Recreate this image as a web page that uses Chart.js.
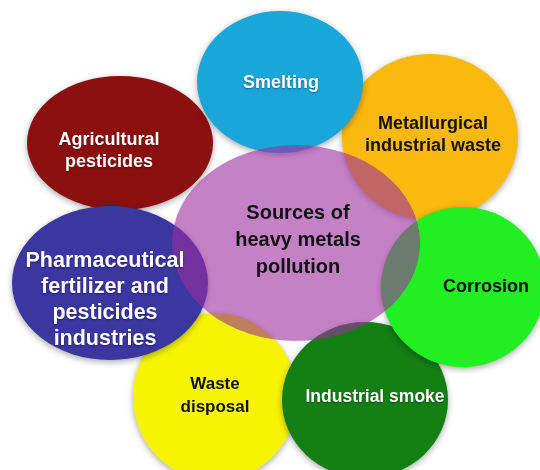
<!DOCTYPE html>
<html>
<head>
<meta charset="utf-8">
<script src="https://cdn.jsdelivr.net/npm/chart.js@4"></script>
<style>
  html, body { margin: 0; padding: 0; background: #fff; }
</style>
</head>
<body>
<canvas id="my-chart" width="540" height="470"></canvas>
<script>
// diagram content, drawn in back-to-front order (centre bubble last)
const names = [
    ["Metallurgical", "industrial waste"],
    ["Agricultural", "pesticides"],
    ["Smelting"],
    ["Waste", "disposal"],
    ["Pharmaceutical", "fertilizer and", "pesticides", "industries"],
    ["Industrial smoke"],
    ["Corrosion"],
    ["Sources of", "heavy metals", "pollution"]
];
// bubble centres and half-widths / half-heights in diagram units
const centerX = [430, 120, 280, 215, 110, 365, 463, 296];
const centerY = [137, 143, 82, 397, 283, 400, 287, 243];
const radiusX = [88, 93, 83, 82, 98, 83, 82, 124];
const radiusY = [83, 67, 71, 84, 77, 78, 80, 98];
// where each caption sits
const labelX = [433, 109, 281, 215, 105, 375, 486, 298];
const labelY = [135, 151, 83, 396, 300, 397, 287, 240];

const fills = ["#fbb80e", "#8c0f10", "#1ba6da", "#f6f400", "#3b36a0", "#137f14", "#22ef22", "rgba(157, 45, 160, 0.6)"];
const textColors = ["#111", "#fff", "#fff", "#111", "#fff", "#fff", "#111", "#111"];
const fontSizes = [18, 18, 18, 17, 21.5, 17.5, 18, 20];
const lineHeights = [22, 22, 22, 23, 26, 22, 22, 27];

const myChart = document.getElementById("my-chart");

// draws each point as an ellipse sized through the chart scales
const bubblePlugin = {
    id: "ellipses",
    afterDatasetsDraw(chart) {
        const ctx = chart.ctx;
        const meta = chart.getDatasetMeta(0);
        const xs = chart.scales.x;
        const ys = chart.scales.y;
        meta.data.forEach((pt, i) => {
            const rx = Math.abs(xs.getPixelForValue(centerX[i] + radiusX[i]) - pt.x);
            const ry = Math.abs(ys.getPixelForValue(centerY[i] + radiusY[i]) - pt.y);
            ctx.save();
            if (i < names.length - 1) {
                ctx.shadowColor = "rgba(0,0,0,0.35)";
                ctx.shadowBlur = 6;
                ctx.shadowOffsetY = 2;
            }
            ctx.beginPath();
            ctx.ellipse(pt.x, pt.y, rx, ry, 0, 0, Math.PI * 2);
            ctx.fillStyle = fills[i];
            ctx.fill();
            ctx.restore();
        });
    },
    afterDraw(chart) {
        const ctx = chart.ctx;
        const xs = chart.scales.x;
        const ys = chart.scales.y;
        names.forEach((lines, i) => {
            const x = xs.getPixelForValue(labelX[i]);
            const y0 = ys.getPixelForValue(labelY[i]) - (lines.length - 1) * lineHeights[i] / 2;
            ctx.save();
            ctx.font = "bold " + fontSizes[i] + "px 'Liberation Sans', Arial, sans-serif";
            ctx.fillStyle = textColors[i];
            ctx.textAlign = "center";
            ctx.textBaseline = "middle";
            if (textColors[i] === "#fff") {
                ctx.shadowColor = "rgba(0,0,0,0.4)";
                ctx.shadowBlur = 2;
                ctx.shadowOffsetY = 1;
            }
            lines.forEach((line, k) => {
                ctx.fillText(line, x, y0 + k * lineHeights[i]);
            });
            ctx.restore();
        });
    }
};

new Chart(myChart, {
    type: "scatter",
    data: {
        datasets: [{
            label: "Sources",
            data: centerX.map((x, i) => ({ x: x, y: centerY[i] })),
            pointRadius: 0,
            pointHoverRadius: 0
        }]
    },
    options: {
        responsive: false,
        animation: false,
        layout: { padding: 0 },
        scales: {
            x: { type: "linear", min: 0, max: 540, display: false },
            y: { type: "linear", min: 0, max: 470, reverse: true, display: false }
        },
        plugins: {
            legend: { display: false },
            tooltip: { enabled: false }
        }
    },
    plugins: [bubblePlugin]
});
</script>
</body>
</html>
